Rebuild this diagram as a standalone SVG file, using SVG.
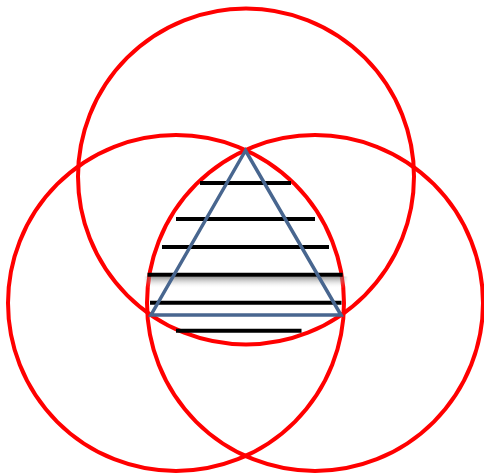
<svg xmlns="http://www.w3.org/2000/svg" width="484" height="474" viewBox="0 0 484 474">
<style>
.c{fill:none;stroke:#ff0000;stroke-width:4}
.h{stroke:#000;stroke-width:4}
.t{fill:none;stroke:#48668f;stroke-width:3.5;stroke-linejoin:miter}
</style>
<defs>
<linearGradient id="sh" x1="0" y1="0" x2="0" y2="1">
<stop offset="0" stop-color="#777" stop-opacity="0.8"/>
<stop offset="1" stop-color="#fff" stop-opacity="0"/>
</linearGradient>
<linearGradient id="shx" x1="0" y1="0" x2="1" y2="0">
<stop offset="0" stop-color="#fff" stop-opacity="0"/>
<stop offset="0.04" stop-color="#fff" stop-opacity="1"/>
<stop offset="0.96" stop-color="#fff" stop-opacity="1"/>
<stop offset="1" stop-color="#fff" stop-opacity="0"/>
</linearGradient>
<mask id="m"><rect x="144" y="276" width="204" height="14" fill="url(#shx)"/></mask>
</defs>
<rect width="484" height="474" fill="#fff"/>
<g id="circles">
<circle id="top" class="c" cx="246" cy="176.5" r="168"/>
<circle id="left" class="c" cx="176" cy="303" r="168"/>
<circle id="right" class="c" cx="315" cy="303" r="168"/>
</g>
<g id="hatch">
<rect x="144" y="276.5" width="204" height="12" fill="url(#sh)" mask="url(#m)"/>
<line class="h" x1="200" y1="183" x2="291" y2="183"/>
<line class="h" x1="176" y1="219" x2="315" y2="219"/>
<line class="h" x1="162" y1="247" x2="329" y2="247"/>
<line class="h" x1="147.5" y1="274.7" x2="342.7" y2="274.7"/>
<line class="h" x1="150" y1="302.7" x2="341.5" y2="302.7"/>
<line class="h" x1="176" y1="330.7" x2="301.5" y2="330.7"/>
</g>
<g id="triangle">
<polygon class="t" points="245.5,150.5 151,315 341,315"/>
</g>
</svg>
